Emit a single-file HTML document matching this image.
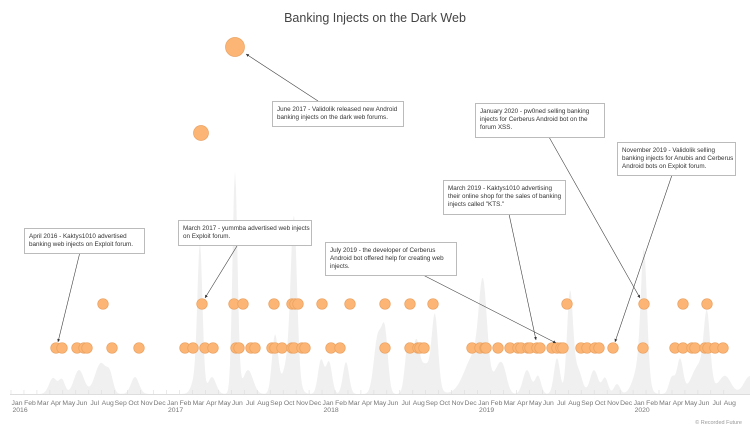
<!DOCTYPE html>
<html><head><meta charset="utf-8"><style>
body{margin:0;background:#fff;}
svg{display:block;font-family:"Liberation Sans",sans-serif;}
.b{fill:#fff;stroke:#bbb;stroke-width:1;}
.t{font-size:6.3px;fill:#333;}
.m{font-size:6.8px;fill:#777;}
circle{fill:#fcb575;stroke:#e9a263;stroke-width:0.7;}
</style></head><body>
<svg id="s" width="750" height="429" viewBox="0 0 750 429" xmlns="http://www.w3.org/2000/svg">
<defs><marker id="a" markerWidth="6" markerHeight="6" refX="5" refY="3" orient="auto"><path d="M0,0.5 L5,3 L0,5.5z" fill="#333"/></marker></defs>
<path id="area" fill="#f0f0f0" d=""/>
<line x1="10" y1="394.5" x2="750" y2="394.5" stroke="#ddd"/>
<g id="ticks"></g>
<text x="375" y="22" text-anchor="middle" style="font-size:12.5px;fill:#444">Banking Injects on the Dark Web</text>
<g id="circ"></g>
<circle cx="235" cy="47" r="9.5"/>
<circle cx="201" cy="133" r="7.5"/>
<g stroke="#444" stroke-width="0.6" marker-end="url(#a)">
<line x1="80" y1="252" x2="58" y2="342"/>
<line x1="237" y1="246" x2="205" y2="298"/>
<line x1="318" y1="101" x2="246" y2="54"/>
<line x1="423" y1="275" x2="556" y2="343"/>
<line x1="509" y1="214" x2="536" y2="340"/>
<line x1="549" y1="137" x2="640" y2="298"/>
<line x1="672" y1="175" x2="615" y2="342"/>
</g>
<rect class="b" x="24.5" y="228.5" width="120" height="25"/>
<text class="t" x="29" y="238">April 2016 - Kaktys1010 advertised</text>
<text class="t" x="29" y="246">banking web injects on Exploit forum.</text>
<rect class="b" x="178.5" y="220.5" width="133" height="25"/>
<text class="t" x="183" y="230">March 2017 - yummba advertised web injects</text>
<text class="t" x="183" y="238">on Exploit forum.</text>
<rect class="b" x="272.5" y="101.5" width="131" height="25"/>
<text class="t" x="277" y="111">June 2017 - Validolik released new Android</text>
<text class="t" x="277" y="119">banking injects on the dark web forums.</text>
<rect class="b" x="325.5" y="242.5" width="131" height="33"/>
<text class="t" x="330" y="252">July 2019 - the developer of  Cerberus</text>
<text class="t" x="330" y="260">Android bot offered help for creating web</text>
<text class="t" x="330" y="268">injects.</text>
<rect class="b" x="443.5" y="180.5" width="122" height="34"/>
<text class="t" x="448" y="190">March 2019 - Kaktys1010 advertising</text>
<text class="t" x="448" y="198">their online shop for the sales of banking</text>
<text class="t" x="448" y="206">injects called "KTS."</text>
<rect class="b" x="475.5" y="103.5" width="129" height="34"/>
<text class="t" x="480" y="113">January 2020 - pw0ned selling banking</text>
<text class="t" x="480" y="121">injects for Cerberus Android bot on the</text>
<text class="t" x="480" y="129">forum XSS.</text>
<rect class="b" x="617.5" y="142.5" width="118" height="33"/>
<text class="t" x="622" y="152">November 2019 - Validolik selling</text>
<text class="t" x="622" y="160">banking injects for Anubis and Cerberus</text>
<text class="t" x="622" y="168">Android bots on Exploit forum.</text>
<g id="lab"></g>
<text x="742" y="424" text-anchor="end" style="font-size:5.5px;fill:#999">© Recorded Future</text>
</svg>
<script>
var NS="http://www.w3.org/2000/svg";
function el(t,a,p,txt){var e=document.createElementNS(NS,t);for(var k in a)e.setAttribute(k,a[k]);if(txt)e.textContent=txt;document.getElementById(p).appendChild(e);}
var pk=[[53,16,4],[62,14,3],[79,24,5],[101,31,6],[110,14,3],[135,17,4],[196,17,4],[200,141,2.5],[212,17,4],[235,222,2.5],[248,24,5],[275,58,3],[294,147,3],[290,40,6],[321,34,3],[329,32,3],[346,32,3],[378,58,4],[385,56,3],[408,48,3],[416,38,3],[435,67,3],[425,30,8],[483,87,4],[475,40,10],[497,16,4],[503,24,4],[527,24,4],[538,18,3],[557,36,3],[570,101,3],[578,24,4],[594,24,4],[605,16,3],[617,10,3],[644,122,3],[640,30,6],[672,17,3],[680,34,3],[707,64,3],[700,30,8],[725,18,6],[750,18,6]];
var d="M10,394";for(var x=10;x<=750;x+=1){var y=0;pk.forEach(function(p){y+=p[1]*Math.exp(-Math.pow((x-p[0])/p[2],2)/2);});y=Math.min(y,300);d+=" L"+x+","+(394-y).toFixed(1);}d+=" L750,394Z";
document.getElementById("area").setAttribute("d",d);
var low=[56,62,77,84,87,112,139,185,193,205,213,236,239,251,255,272,275,282,292,294,302,305,331,340,385,410,418,420,424,472,480,485,486,498,510,518,521,528,530,537,540,552,557,561,563,581,587,595,599,613,643,675,683,692,695,705,708,715,723];
low.forEach(function(x){el("circle",{cx:x,cy:348,r:5.3},"circ");});
var up=[103,202,234,243,274,292,295,298,322,350,385,410,433,567,644,683,707];
up.forEach(function(x){el("circle",{cx:x,cy:304,r:5.3},"circ");});
var mn=["Jan","Feb","Mar","Apr","May","Jun","Jul","Aug","Sep","Oct","Nov","Dec"];
for(var i=0;i<56;i++){var cx=17+12.96*i;el("text",{x:cx,y:405,"text-anchor":"middle","class":"m"},"lab",mn[i%12]);
el("line",{x1:cx-6,y1:390,x2:cx-6,y2:394,stroke:"#ddd","stroke-width":0.6},"ticks");
if(i%12==0)el("text",{x:cx-4.5,y:412,"class":"m"},"lab",String(2016+i/12));}
</script>
</body></html>
